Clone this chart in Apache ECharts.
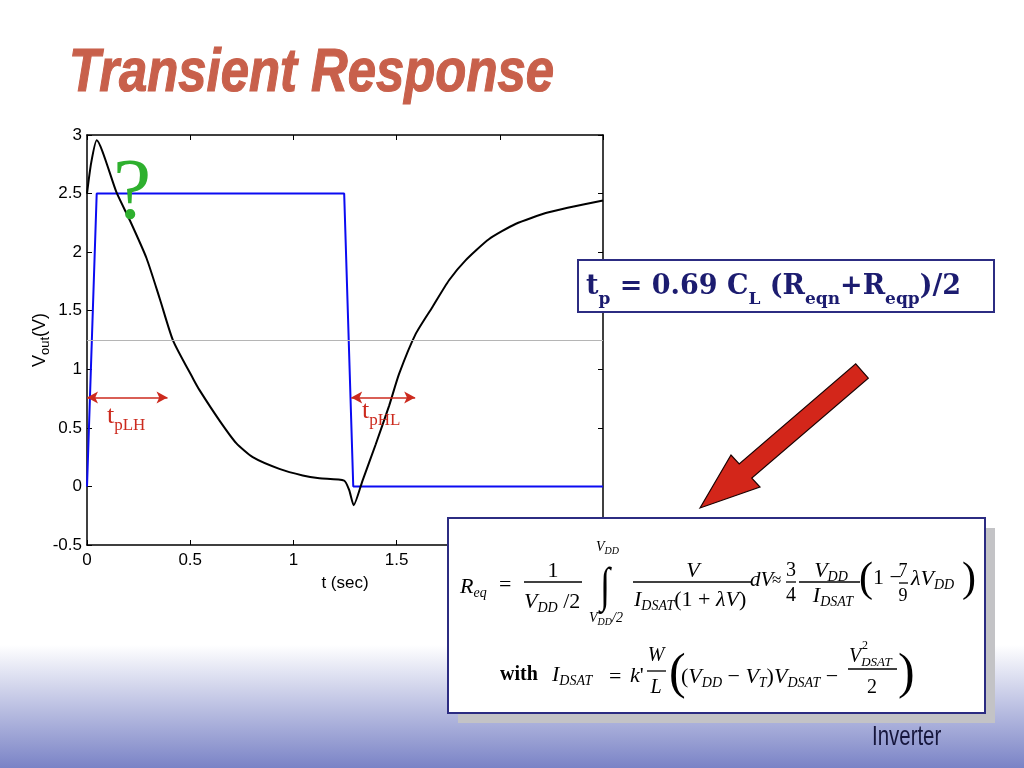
<!DOCTYPE html>
<html><head><meta charset="utf-8">
<script src="https://cdn.jsdelivr.net/npm/echarts@6/dist/echarts.min.js"></script>
<style>html,body{margin:0;padding:0;background:#fff}#c{width:1024px;height:768px}</style>
</head><body><div id="c"></div>
<script>
// ---- data ----
const timeIn = [0, 0.047, 1.246, 1.29, 2.5];
const vIn = [0, 2.5, 2.5, 0, 0];
const timeOut = [0, 0.02, 0.047, 0.143, 0.208, 0.288, 0.353, 0.417, 0.514, 0.546, 0.643, 0.723, 0.803, 0.932, 1.045, 1.126, 1.246, 1.27, 1.292, 1.335, 1.399, 1.464, 1.512, 1.592, 1.673, 1.754, 1.834, 1.947, 2.076, 2.237, 2.5];
const vOut = [2.5, 2.76, 2.955, 2.51, 2.27, 1.95, 1.60, 1.245, 0.92, 0.82, 0.56, 0.37, 0.25, 0.15, 0.094, 0.07, 0.05, -0.03, -0.16, 0.05, 0.36, 0.69, 0.96, 1.30, 1.53, 1.76, 1.93, 2.11, 2.24, 2.34, 2.44];
const xTicks = ['0', '0.5', '1', '1.5', '2', '2.5'];
const yTicks = ['-0.5', '0', '0.5', '1', '1.5', '2', '2.5', '3'];
const halfSwing = 1.25;
const arrowLH = [0, 0.39, 0.76];
const arrowHL = [1.28, 1.59, 0.76];

const SANS = "'Liberation Sans', Arial, Helvetica, sans-serif";
const SERIF = "'Liberation Serif', 'Times New Roman', serif";
const DSERIF = "'DejaVu Serif', 'Liberation Serif', serif";

const chart = echarts.init(document.getElementById('c'), null, {renderer: 'canvas'});

function zip(a, b) { return a.map((v, i) => [v, b[i]]); }

// formula rich styles
const FR = {
  r: {fontFamily: SERIF, fontSize: 22, fontStyle: 'normal', lineHeight: 26, fill: '#000'},
  i: {fontFamily: SERIF, fontSize: 22, fontStyle: 'italic', lineHeight: 26, fill: '#000'},
  s: {fontFamily: SERIF, fontSize: 14, fontStyle: 'italic', lineHeight: 14, padding: [13, 0, 0, 0], fill: '#000'},
  i2: {fontFamily: SERIF, fontSize: 20, fontStyle: 'italic', lineHeight: 24, fill: '#000'},
  s2: {fontFamily: SERIF, fontSize: 13, fontStyle: 'italic', lineHeight: 13, padding: [12, 0, 0, 0], fill: '#000'},
  li: {fontFamily: SERIF, fontSize: 14, fontStyle: 'italic', lineHeight: 16, fill: '#000'},
  ls: {fontFamily: SERIF, fontSize: 10, fontStyle: 'italic', lineHeight: 10, padding: [8, 0, 0, 0], fill: '#000'},
  b: {fontFamily: SERIF, fontSize: 20, fontWeight: 'bold', lineHeight: 26, fill: '#000'}
};
function ft(x, y, text, align, z) {
  return {type: 'text', x: x, y: y, z: z || 112, silent: true,
    style: {text: text, rich: FR, fill: '#000', align: align || 'left', verticalAlign: 'middle', fontFamily: SERIF, fontSize: 22}};
}
function plain(x, y, text, size, opts) {
  opts = opts || {};
  return {type: 'text', x: x, y: y, z: 112, silent: true, scaleX: opts.sx || 1, scaleY: opts.sy || 1,
    style: {text: text, fontFamily: opts.family || SERIF, fontSize: size, fontStyle: opts.italic ? 'italic' : 'normal',
      fontWeight: opts.bold ? 'bold' : 'normal', fill: opts.color || '#000', align: opts.align || 'left', verticalAlign: 'middle'}};
}
function bar(x1, x2, y) {
  return {type: 'line', z: 112, silent: true, shape: {x1: x1, y1: y, x2: x2, y2: y}, style: {stroke: '#000', lineWidth: 1.3}};
}

const graphics = [
  // bottom gradient band
  {type: 'rect', z: -10, silent: true, shape: {x: 0, y: 645, width: 1024, height: 123},
    style: {fill: {type: 'linear', x: 0, y: 0, x2: 0, y2: 1, colorStops: [{offset: 0, color: '#ffffff'}, {offset: 1, color: '#7a83c6'}]}}},
  // title
  {type: 'text', x: 69, y: 74, z: 100, scaleX: 0.82, silent: true,
    style: {text: 'Transient Response', fontFamily: SANS, fontSize: 62, fontWeight: 'bold', fontStyle: 'italic',
      fill: '#c8604b', stroke: '#c8604b', lineWidth: 1.2, align: 'left', verticalAlign: 'middle',
      shadowColor: 'rgba(100,100,100,0.8)', shadowOffsetX: 3, shadowOffsetY: 3, shadowBlur: 2}},
  // green question mark
  plain(132, 195, '?', 86, {align: 'center', color: '#2eb02e'}),
  // t_pLH and t_pHL labels
  {type: 'text', x: 107, y: 416, z: 100, silent: true,
    style: {text: '{t|t}{s|pLH}', align: 'left', verticalAlign: 'middle',
      rich: {t: {fontFamily: SERIF, fontSize: 26, lineHeight: 30, fill: '#cc2a1e'},
             s: {fontFamily: SERIF, fontSize: 17, lineHeight: 17, padding: [19, 0, 0, 0], fill: '#cc2a1e'}}}},
  {type: 'text', x: 362, y: 411, z: 100, silent: true,
    style: {text: '{t|t}{s|pHL}', align: 'left', verticalAlign: 'middle',
      rich: {t: {fontFamily: SERIF, fontSize: 26, lineHeight: 30, fill: '#cc2a1e'},
             s: {fontFamily: SERIF, fontSize: 17, lineHeight: 17, padding: [19, 0, 0, 0], fill: '#cc2a1e'}}}},
  // tp box
  {type: 'rect', z: 105, silent: true, shape: {x: 578, y: 260, width: 416, height: 52},
    style: {fill: '#ffffff', stroke: '#2c2c82', lineWidth: 2}},
  {type: 'text', x: 586, y: 287, z: 106, silent: true,
    style: {text: '{m|t}{b|p}{m| = 0.69 C}{b|L}{m| (R}{b|eqn}{m|+R}{b|eqp}{m|)/2}', align: 'left', verticalAlign: 'middle',
      rich: {m: {fontFamily: DSERIF, fontSize: 27, fontWeight: 'bold', lineHeight: 34, fill: '#1c1c70'},
             b: {fontFamily: DSERIF, fontSize: 17, fontWeight: 'bold', lineHeight: 17, padding: [26, 0, 0, 0], fill: '#1c1c70'}}}},
  // red arrow
  {type: 'polygon', z: 100, silent: true,
    shape: {points: [[700, 508], [731, 455], [739.2, 463.9], [855.7, 363.9], [868.3, 378.1], [751.8, 478.1], [760, 487]]},
    style: {fill: '#d3261a', stroke: '#1a0000', lineWidth: 1.2}},
  // formula box shadow + box
  {type: 'rect', z: 108, silent: true, shape: {x: 458, y: 528, width: 537, height: 195}, style: {fill: '#c3c3c6'}},
  {type: 'rect', z: 109, silent: true, shape: {x: 448, y: 518, width: 537, height: 195},
    style: {fill: '#ffffff', stroke: '#2c2c82', lineWidth: 2}},
  // Inverter
  {type: 'text', x: 872, y: 737, z: 100, scaleX: 0.73, silent: true,
    style: {text: 'Inverter', fontFamily: SANS, fontSize: 28, fill: '#16163c', align: 'left', verticalAlign: 'middle'}}
];

// formula row 1
graphics.push(
  ft(460, 587, '{i|R}{s|eq}'),
  ft(499, 585, '{r|=}'),
  plain(553, 571, '1', 22, {align: 'center'}),
  bar(524, 582, 582),
  ft(524, 602, '{i|V}{s|DD}{r| /2}'),
  plain(605, 588, '\u222B', 36, {align: 'center', sy: 1.35}),
  ft(596, 547, '{li|V}{ls|DD}'),
  ft(589, 618, '{li|V}{ls|DD}{li|/2}'),
  ft(693, 571, '{i|V}', 'center'),
  bar(633, 752, 582),
  ft(634, 600, '{i|I}{s|DSAT}{r|(1 + }{i|\u03BBV}{r|)}'),
  plain(750, 580, 'dV', 21, {italic: true}),
  plain(772, 581, '\u2248', 17),
  plain(791, 571, '3', 20, {align: 'center'}),
  plain(791, 596, '4', 20, {align: 'center'}),
  bar(786, 796, 582),
  ft(831, 571, '{i|V}{s|DD}', 'center'),
  bar(799, 860, 582),
  ft(833, 596, '{i|I}{s|DSAT}', 'center'),
  plain(859, 580, '(', 42),
  ft(873, 578, '{r|1 \u2212}'),
  plain(903, 571, '7', 18, {align: 'center'}),
  plain(903, 596, '9', 18, {align: 'center'}),
  bar(899, 908, 583),
  ft(911, 579, '{i|\u03BBV}{s|DD}'),
  plain(962, 580, ')', 42)
);
// formula row 2
graphics.push(
  ft(500, 675, '{b|with}'),
  ft(552, 675, '{i|I}{s|DSAT}'),
  ft(609, 677, '{r|=}'),
  ft(630, 676, "{i|k}{r|'}"),
  plain(656, 656, 'W', 20, {align: 'center', italic: true}),
  plain(656, 688, 'L', 20, {align: 'center', italic: true}),
  bar(647, 666, 671),
  plain(669, 675, '(', 50),
  ft(681, 677, '{r|(}{i|V}{s|DD}{r| \u2212 }{i|V}{s|T}{r|)}{i|V}{s|DSAT}{r| \u2212}'),
  ft(849, 657, '{i2|V}{s2|DSAT}'),
  plain(862, 646, '2', 12),
  bar(848, 897, 669),
  plain(872, 688, '2', 20, {align: 'center'}),
  plain(898, 675, ')', 50)
);

const axisCommon = {
  type: 'value',
  axisLine: {show: true, onZero: false, lineStyle: {color: '#000', width: 1.5}},
  axisTick: {show: true, inside: true, length: 5, lineStyle: {color: '#000', width: 1}},
  splitLine: {show: false},
  minorTick: {show: false}
};

const option = {
  animation: false,
  backgroundColor: '#ffffff',
  grid: {left: 87, right: 421, top: 135, bottom: 223, containLabel: false, outerBoundsMode: 'none', show: false},
  xAxis: [
    Object.assign({}, axisCommon, {
      position: 'bottom', min: 0, max: 2.5, interval: 0.5,
      axisLabel: {show: true, margin: 7, fontSize: 17, fontFamily: SANS, color: '#000', showMinLabel: true, showMaxLabel: true,
        formatter: v => xTicks[Math.round(v / 0.5)]},
      name: 't (sec)', nameLocation: 'middle', nameGap: 30, nameMoveOverlap: false,
      nameTextStyle: {fontSize: 17, fontFamily: SANS, color: '#000'}
    }),
    Object.assign({}, axisCommon, {
      position: 'top', min: 0, max: 2.5, interval: 0.5, axisLabel: {show: false}
    })
  ],
  yAxis: [
    Object.assign({}, axisCommon, {
      position: 'left', min: -0.5, max: 3, interval: 0.5,
      axisLabel: {show: true, margin: 5, fontSize: 17, fontFamily: SANS, color: '#000', showMinLabel: true, showMaxLabel: true,
        formatter: v => yTicks[Math.round((v + 0.5) / 0.5)]},
      name: '{v|V}{s|out}{v|(V)}', nameLocation: 'middle', nameGap: 36, nameRotate: 90, nameMoveOverlap: false,
      nameTextStyle: {fontSize: 18, fontFamily: SANS, color: '#000',
        rich: {v: {fontSize: 18, fontFamily: SANS, color: '#000', lineHeight: 21},
               s: {fontSize: 13, fontFamily: SANS, color: '#000', lineHeight: 13, padding: [9, 0, 0, 0]}}}
    }),
    Object.assign({}, axisCommon, {
      position: 'right', min: -0.5, max: 3, interval: 0.5, axisLabel: {show: false}
    })
  ],
  series: [
    {
      name: 'Vin', type: 'line', xAxisIndex: 0, yAxisIndex: 0, z: 3,
      data: zip(timeIn, vIn), symbol: 'none', showSymbol: false,
      lineStyle: {color: '#0b0bf2', width: 2}, itemStyle: {color: '#0b0bf2'},
      emphasis: {disabled: true},
      markLine: {
        silent: true, symbol: 'none', label: {show: false}, animation: false,
        lineStyle: {color: '#b5b5b5', width: 1, type: 'solid'},
        emphasis: {disabled: true},
        data: [{yAxis: halfSwing}]
      }
    },
    {
      name: 'Vout', type: 'line', xAxisIndex: 0, yAxisIndex: 0, z: 4,
      data: zip(timeOut, vOut), symbol: 'none', showSymbol: false, smooth: 0.2,
      lineStyle: {color: '#000', width: 2}, itemStyle: {color: '#000'},
      emphasis: {disabled: true},
      markLine: {
        silent: true, symbol: ['arrow', 'arrow'], symbolSize: [9, 11], label: {show: false}, animation: false,
        lineStyle: {color: '#cc2a1e', width: 1.6, type: 'solid'},
        itemStyle: {color: '#cc2a1e'},
        emphasis: {disabled: true},
        data: [
          [{coord: [arrowLH[0], arrowLH[2]]}, {coord: [arrowLH[1], arrowLH[2]]}],
          [{coord: [arrowHL[0], arrowHL[2]]}, {coord: [arrowHL[1], arrowHL[2]]}]
        ]
      }
    }
  ],
  graphic: {elements: graphics}
};
chart.setOption(option);
</script>
</body></html>
